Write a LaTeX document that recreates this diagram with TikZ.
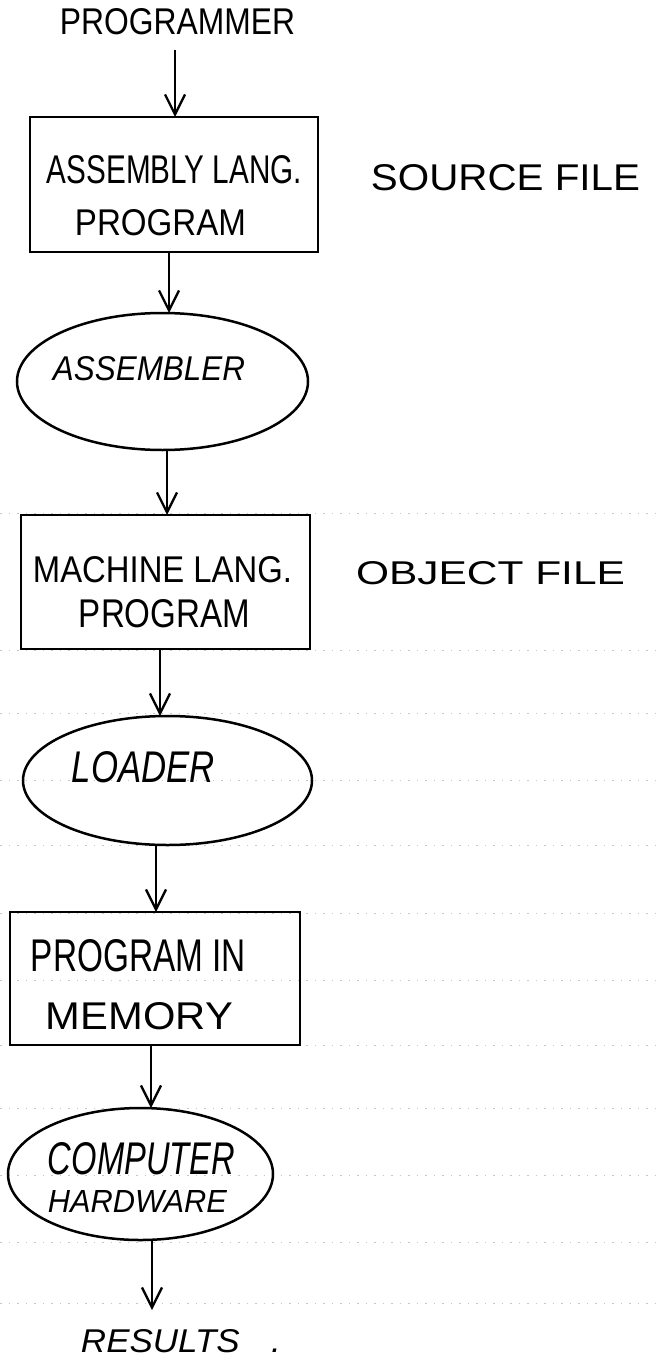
\documentclass[tikz,border=0pt]{standalone}
\usepackage{fontspec}
\setmainfont{Liberation Sans}
\usetikzlibrary{shapes.geometric,arrows.meta}
\newcommand\lbl[3]{\resizebox{#1pt}{#2pt}{#3}}
\begin{document}
\begin{tikzpicture}[x=1pt,y=-1pt,
  ink/.style={line width=2.5pt, draw=black},
  stepbox/.style={ink, rectangle, inner sep=0pt, outer sep=0pt},
  procell/.style={ink, ellipse, inner sep=0pt, outer sep=0pt},
  txt/.style={inner sep=0pt, outer sep=0pt},
  arr/.style={line width=2.3pt, -{Straight Barb[length=20pt,width=20pt]}},
  paper/.style={gray!45, line width=0.7pt, dash pattern=on 1.5pt off 7pt}]
\fill[white] (0,0) rectangle (662,1372);
\useasboundingbox (0,0) rectangle (662,1372);
% faint ruled-paper lines of the scan
\foreach \yy in {513,650,713,780,845,913,980,1045,1108,1175,1242,1303}
  \draw[paper] (0,\yy) -- (662,\yy);
% boxes and ellipses
\node[stepbox, minimum width=288pt, minimum height=135pt] (b1) at (174,184.5) {};
\node[procell, minimum width=291pt, minimum height=137pt] (e1) at (162.5,381.5) {};
\node[stepbox, minimum width=289pt, minimum height=134pt] (b2) at (165.5,582) {};
\node[procell, minimum width=289pt, minimum height=129pt] (e2) at (167.5,780.5) {};
\node[stepbox, minimum width=290pt, minimum height=133pt] (b3) at (155,978.5) {};
\node[procell, minimum width=265pt, minimum height=132pt] (e3) at (140.5,1174) {};
% texts
\node[txt] (t0) at (177.5,22) {\lbl{235}{26}{PROGRAMMER}};
\node[txt] (t1a) at (174.5,170) {\lbl{255}{28}{ASSEMBLY LANG.}};
\node[txt] (t1b) at (160.5,223) {\lbl{171}{26}{PROGRAM}};
\node[txt] (s1) at (505.5,178) {\lbl{269}{26}{SOURCE FILE}};
\node[txt] (te1) at (149,369) {\lbl{192}{24}{\itshape ASSEMBLER}};
\node[txt] (t2a) at (162.5,570) {\lbl{259}{26}{MACHINE LANG.}};
\node[txt] (t2b) at (164.5,614) {\lbl{171}{28}{PROGRAM}};
\node[txt] (s2) at (490.5,573.5) {\lbl{269}{23}{OBJECT FILE}};
\node[txt] (te2) at (143.5,767.5) {\lbl{143}{31}{\itshape LOADER}};
\node[txt] (t3a) at (138.5,956) {\lbl{215}{32}{PROGRAM IN}};
\node[txt] (t3b) at (139.5,1016.5) {\lbl{187}{27}{MEMORY}};
\node[txt] (te3a) at (141.5,1159) {\lbl{187}{32}{\itshape COMPUTER}};
\node[txt] (te3b) at (137.5,1201) {\lbl{179}{22}{\itshape HARDWARE}};
\node[txt] (res) at (181,1341.5) {\lbl{200}{23}{\itshape RESULTS\hspace{0.9em}.}};
\coordinate (rtip) at (152,1310);
% connectors
\draw[arr, shorten <=15pt] (t0.south -| 175,0) -- (b1.north -| 175,0);
\draw[arr] (b1.south -| 169,0) -- (e1.north -| 169,0);
\draw[arr] (e1.south -| 167,0) -- (b2.north -| 167,0);
\draw[arr] (b2.south -| 160,0) -- (e2.north -| 160,0);
\draw[arr] (e2.south -| 156,0) -- (b3.north -| 156,0);
\draw[arr] (b3.south -| 151,0) -- (e3.north -| 151,0);
\draw[arr] (e3.south -| 152,0) -- (rtip);
\end{tikzpicture}
\end{document}
